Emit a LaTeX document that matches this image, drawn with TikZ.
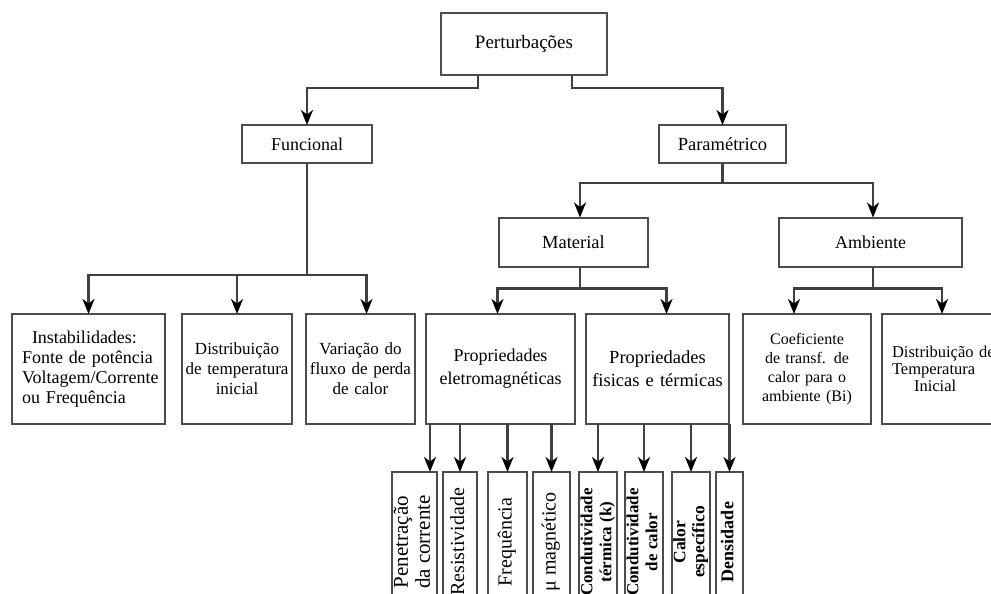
\documentclass[tikz,border=0pt]{standalone}
\usepackage{fontspec}
\setmainfont{Liberation Serif}
\usepackage{graphicx}
\usepackage{tikz}
\usetikzlibrary{arrows.meta, positioning}

\newcommand{\uptext}[1]{\rotatebox{90}{\begin{tabular}{@{}c@{}}#1\end{tabular}}}

\tikzset{
    box/.style={draw=black!70, line width=2pt, outer sep=0pt, inner sep=0pt, align=center, text=black},
    conn/.style={draw=black!75, line width=2.2pt},
    arr/.style={conn, -{Stealth[length=15pt, width=12pt, inset=4.5pt, color=black]}},
    fsize/.style={font=\fontsize{#1}{20}\selectfont},
    upbox/.style={box, minimum height=140pt},
}

\begin{document}
\begin{tikzpicture}[x=1pt, y=-1pt]
        \useasboundingbox (0,0) rectangle (991,594);

        \node[box, fsize=19, minimum width=166pt, minimum height=62pt] (pert) at (524,44) {Perturbações};
        \node[box, fsize=18, minimum width=130pt, minimum height=38pt] (func) at (307,144) {Funcional};
        \node[box, fsize=18.5, minimum width=127pt, minimum height=38pt, right=287pt of func] (param) {Paramétrico};
        \node[box, fsize=18.5, minimum width=149pt, minimum height=49pt] (mat) at (573.5,242) {Material};
        \node[box, fsize=18, minimum width=183pt, minimum height=49pt, right=131pt of mat] (amb) {Ambiente};

        \node[box, fsize=18, minimum height=110pt, text width=133pt, inner xsep=10pt, align=left] (inst) at (88.5,369)
            {\hspace*{10pt}Instabilidades:\\Fonte de potência\\Voltagem/Corrente\\ou Frequência};
        \node[box, fsize=17, minimum height=110pt, text width=104pt, inner xsep=3pt, right=17pt of inst] (dist)
            {Distribuição\\de temperatura\\inicial};
        \node[box, fsize=17, minimum height=110pt, text width=103pt, inner xsep=3pt, right=14pt of dist] (var)
            {Variação do\\fluxo de perda\\de calor};
        \node[box, font=\fontsize{18}{23}\selectfont, minimum height=110pt, text width=143pt, inner xsep=3pt, right=11pt of var] (em)
            {Propriedades\\eletromagnéticas};
        \node[box, font=\fontsize{18.5}{23}\selectfont, minimum height=110pt, text width=137pt, inner xsep=3pt, right=11pt of em] (fis)
            {Propriedades\\fisicas e térmicas};
        \node[box, font=\fontsize{16}{19}\selectfont, minimum height=110pt, text width=122pt, inner xsep=3pt, right=14pt of fis] (coef)
            {Coeficiente\\de transf. de\\calor para o\\ambiente (Bi)};
        \node[box, font=\fontsize{16.5}{17}\selectfont, minimum height=110pt, text width=108pt, inner xsep=10pt, align=left, right=11pt of coef] (dti)
            {Distribuição de\\Temperatura\\\hspace*{22pt}Inicial};

        \node[upbox, minimum width=45pt, font=\fontsize{21}{22}\selectfont] (pen) at (414.5,542) {\uptext{Penetração\\da corrente}};
        \node[upbox, minimum width=34pt, fsize=20, right=6pt of pen] (res) {\uptext{Resistividade}};
        \node[upbox, minimum width=39pt, fsize=20, right=11pt of res] (freq) {\uptext{Frequência}};
        \node[upbox, minimum width=37pt, fsize=20, right=6pt of freq] (mu) {\uptext{μ magnético}};
        \node[upbox, minimum width=38pt, font=\fontsize{17}{19}\bfseries, right=9pt of mu] (condk) {\uptext{Condutividade\\térmica (k)}};
        \node[upbox, minimum width=38pt, font=\fontsize{17}{19}\bfseries, right=8pt of condk] (condc) {\uptext{Condutividade\\de calor}};
        \node[upbox, minimum width=38pt, font=\fontsize{17.5}{19}\bfseries, right=9pt of condc] (calor) {\uptext{Calor\\específico}};
        \node[upbox, minimum width=27pt, font=\fontsize{18}{19}\bfseries, right=6pt of calor] (dens) {\uptext{Densidade}};

        \draw[arr] ([xshift=-46pt]pert.south) -- ++(0,-13pt) -| (func.north);
        \draw[arr] ([xshift=48pt]pert.south) -- ++(0,-13pt) -| (param.north);

        \draw[conn] (func.south) -- ++(0,-112pt) coordinate (fj);
        \draw[arr] (fj) -| (inst.north);
        \draw[arr] (fj) -| (dist.north);
        \draw[arr] (fj) -| ([xshift=6pt]var.north);

        \draw[conn] (param.south) -- ++(0,-20pt) coordinate (pj);
        \draw[arr] (pj) -| ([xshift=6.5pt]mat.north);
        \draw[arr] (pj) -| ([xshift=2.5pt]amb.north);

        \draw[conn] ([xshift=6.5pt]mat.south) -- ++(0,-22pt) coordinate (mj);
        \draw[arr] (mj) -| ([xshift=-3pt]em.north);
        \draw[arr] (mj) -| ([xshift=9pt]fis.north);

        \draw[conn] ([xshift=2.5pt]amb.south) -- ++(0,-22pt) coordinate (aj);
        \draw[arr] (aj) -| ([xshift=-13pt]coef.north);
        \draw[arr] (aj) -| ([xshift=-4pt]dti.north);

        \coordinate (penin) at ([xshift=15.5pt]pen.north);
        \draw[arr] (em.south -| penin) -- (penin);
        \draw[arr] (em.south -| res.north) -- (res.north);
        \draw[arr] (em.south -| freq.north) -- (freq.north);
        \draw[arr] (em.south -| mu.north) -- (mu.north);
        \draw[arr] (fis.south -| condk.north) -- (condk.north);
        \draw[arr] (fis.south -| condc.north) -- (condc.north);
        \draw[arr] (fis.south -| calor.north) -- (calor.north);
        \draw[arr] (fis.south -| dens.north) -- (dens.north);
\end{tikzpicture}
\end{document}
